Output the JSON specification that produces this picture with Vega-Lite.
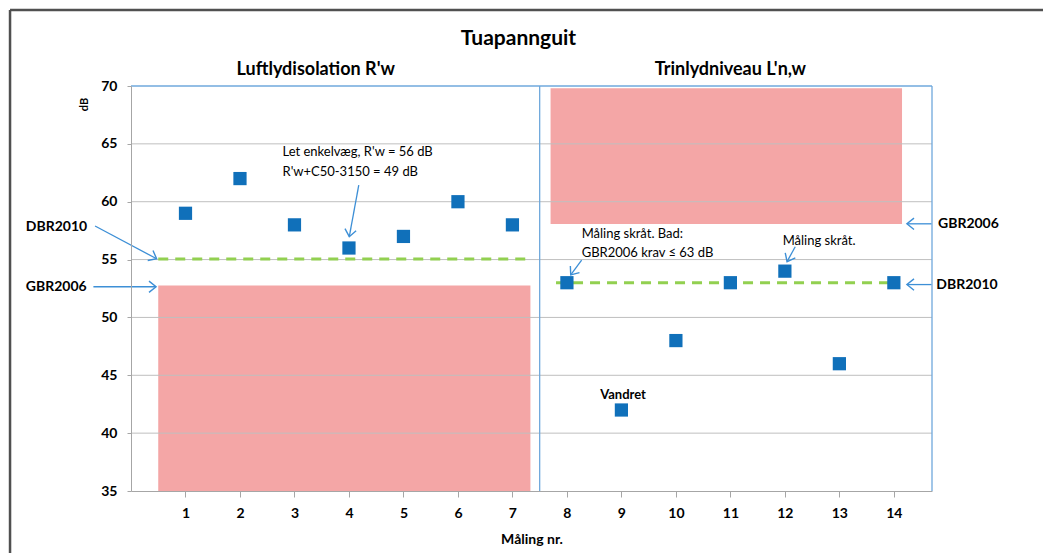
{
  "$schema": "https://vega.github.io/schema/vega-lite/v6.json",
  "width": 801,
  "height": 405,
  "autosize": {"type": "none"},
  "padding": {"left": 131, "top": 86, "right": 111, "bottom": 62},
  "background": "white",
  "config": {"view": {"stroke": null}, "font": "Lato"},
  "datasets": {
    "pts": [
      {"n": 1, "db": 59}, {"n": 2, "db": 62}, {"n": 3, "db": 58}, {"n": 4, "db": 56},
      {"n": 5, "db": 57}, {"n": 6, "db": 60}, {"n": 7, "db": 58}, {"n": 8, "db": 53},
      {"n": 9, "db": 42}, {"n": 10, "db": 48}, {"n": 11, "db": 53}, {"n": 12, "db": 54},
      {"n": 13, "db": 46}, {"n": 14, "db": 53}
    ],
    "zones": [
      {"x": 0.5, "x2": 7.33, "y": 35, "y2": 52.75},
      {"x": 7.7, "x2": 14.15, "y": 58.07, "y2": 69.8}
    ],
    "grid": [{"v": 40}, {"v": 45}, {"v": 50}, {"v": 55}, {"v": 60}, {"v": 65}],
    "krav": [
      {"x": 0.5, "x2": 7.33, "y": 55.05},
      {"x": 7.8, "x2": 14.1, "y": 53}
    ],
    "border": [
      {"x": 0, "x2": 14.7, "y": 70, "y2": 70},
      {"x": 14.7, "x2": 14.7, "y": 35, "y2": 70},
      {"x": 7.5, "x2": 7.5, "y": 35, "y2": 70}
    ],
    "frame": [
      {"x": -2.22, "x2": -2.22, "y": 29.5, "y2": 76.57},
      {"x": -2.22, "x2": 16.8, "y": 76.57, "y2": 76.57}
    ],
    "arrows": [
      {"x": 4.18, "y": 61.44, "x2": 4.006, "y2": 56.98, "angle": 100.3},
      {"x": -0.66, "y": 57.9, "x2": 0.47, "y2": 55.07, "angle": 27.9},
      {"x": -0.69, "y": 52.65, "x2": 0.46, "y2": 52.65, "angle": 0},
      {"x": 14.69, "y": 58.09, "x2": 14.24, "y2": 58.09, "angle": 180},
      {"x": 14.69, "y": 52.84, "x2": 14.24, "y2": 52.84, "angle": 180},
      {"x": 8.27, "y": 54.96, "x2": 8.07, "y2": 53.67, "angle": 126.3},
      {"x": 12.19, "y": 56.11, "x2": 12.04, "y2": 54.82, "angle": 117.2}
    ],
    "notesBold": [
      {"x": -1.93, "y": 57.85, "t": "DBR2010"},
      {"x": -1.93, "y": 52.65, "t": "GBR2006"},
      {"x": 14.81, "y": 58.09, "t": "GBR2006"},
      {"x": 14.78, "y": 52.84, "t": "DBR2010"}
    ],
    "notes": [
      {"x": 2.78, "y": 64.32, "t": "Let enkelvæg, R'w =  56 dB"},
      {"x": 2.78, "y": 62.6, "t": "R'w+C50-3150 = 49 dB"},
      {"x": 8.27, "y": 57.21, "t": "Måling skråt. Bad:"},
      {"x": 8.27, "y": 55.6, "t": "GBR2006 krav ≤ 63 dB"},
      {"x": 11.96, "y": 56.63, "t": "Måling skråt."}
    ],
    "vandret": [{"x": 9.03, "y": 43.3, "t": "Vandret"}],
    "panels": [
      {"x": 3.39, "y": 71.38, "t": "Luftlydisolation R'w"},
      {"x": 11.0, "y": 71.38, "t": "Trinlydniveau L'n,w"}
    ],
    "main": [{"x": 7.11, "y": 74.1, "t": "Tuapannguit"}]
  },
  "layer": [
    {
      "data": {"name": "zones"},
      "mark": {"type": "rect", "color": "#F4A6A6"},
      "encoding": {
        "x": {"field": "x", "type": "quantitative", "title": "Måling nr.", "scale": {"domain": [0, 14.7], "nice": false, "zero": false}},
        "x2": {"field": "x2"},
        "y": {"field": "y", "type": "quantitative", "title": "dB", "scale": {"domain": [35, 70], "nice": false, "zero": false}},
        "y2": {"field": "y2"}
      }
    },
    {
      "data": {"name": "grid"},
      "mark": {"type": "rule", "color": "#BFBFBF", "strokeWidth": 1},
      "encoding": {
        "y": {"field": "v", "type": "quantitative", "title": "dB", "scale": {"domain": [35, 70], "nice": false, "zero": false}}
      }
    },
    {
      "data": {"name": "border"},
      "mark": {"type": "rule", "color": "#6FA8DC", "strokeWidth": 1.3},
      "encoding": {
        "x": {"field": "x", "type": "quantitative", "title": "Måling nr.", "scale": {"domain": [0, 14.7], "nice": false, "zero": false}},
        "x2": {"field": "x2"},
        "y": {"field": "y", "type": "quantitative", "title": "dB", "scale": {"domain": [35, 70], "nice": false, "zero": false}},
        "y2": {"field": "y2"}
      }
    },
    {
      "data": {"name": "frame"},
      "mark": {"type": "rule", "color": "#505050", "strokeWidth": 2.5},
      "encoding": {
        "x": {"field": "x", "type": "quantitative", "title": "Måling nr.", "scale": {"domain": [0, 14.7], "nice": false, "zero": false}},
        "x2": {"field": "x2"},
        "y": {"field": "y", "type": "quantitative", "title": "dB", "scale": {"domain": [35, 70], "nice": false, "zero": false}},
        "y2": {"field": "y2"}
      }
    },
    {
      "data": {"name": "krav"},
      "mark": {"type": "rule", "color": "#92D050", "strokeWidth": 3, "strokeDash": [10, 7]},
      "encoding": {
        "x": {"field": "x", "type": "quantitative", "title": "Måling nr.", "scale": {"domain": [0, 14.7], "nice": false, "zero": false}},
        "x2": {"field": "x2"},
        "y": {"field": "y", "type": "quantitative", "title": "dB", "scale": {"domain": [35, 70], "nice": false, "zero": false}}
      }
    },
    {
      "data": {"name": "pts"},
      "mark": {"type": "point", "shape": "square", "filled": true, "size": 175, "color": "#1070BA", "opacity": 1},
      "encoding": {
        "x": {
          "field": "n", "type": "quantitative", "title": "Måling nr.",
          "scale": {"domain": [0, 14.7], "nice": false, "zero": false},
          "axis": {
            "values": [1, 2, 3, 4, 5, 6, 7, 8, 9, 10, 11, 12, 13, 14],
            "format": "d",
            "grid": false, "tickSize": 6,
            "tickColor": "#A6A6A6", "domainColor": "#A6A6A6",
            "labelFont": "Lato", "labelFontSize": 14, "labelFontWeight": "bold", "labelColor": "#000000",
            "labelPadding": 9, "labelFlush": false,
            "titleFont": "Lato", "titleFontSize": 14, "titleFontWeight": "bold", "titleColor": "#000000",
            "titlePadding": 12, "zindex": 1
          }
        },
        "y": {
          "field": "db", "type": "quantitative", "title": "dB",
          "scale": {"domain": [35, 70], "nice": false, "zero": false},
          "axis": {
            "values": [35, 40, 45, 50, 55, 60, 65, 70],
            "format": "d",
            "grid": false, "tickSize": 4,
            "tickColor": "#A6A6A6", "domainColor": "#A6A6A6",
            "labelFont": "Lato", "labelFontSize": 14, "labelFontWeight": "bold", "labelColor": "#000000",
            "labelPadding": 10, "labelFlush": false,
            "titleFont": "Lato", "titleFontSize": 11, "titleFontWeight": "bold", "titleColor": "#000000",
            "titleAngle": 270, "titleAlign": "center", "titleBaseline": "middle",
            "titleX": -47, "titleY": 18, "zindex": 1
          }
        }
      }
    },
    {
      "data": {"name": "arrows"},
      "mark": {"type": "rule", "color": "#3D8FD6", "strokeWidth": 1.3},
      "encoding": {
        "x": {"field": "x", "type": "quantitative", "title": "Måling nr.", "scale": {"domain": [0, 14.7], "nice": false, "zero": false}},
        "x2": {"field": "x2"},
        "y": {"field": "y", "type": "quantitative", "title": "dB", "scale": {"domain": [35, 70], "nice": false, "zero": false}},
        "y2": {"field": "y2"}
      }
    },
    {
      "data": {"name": "arrows"},
      "mark": {"type": "point", "shape": "M-1,-0.8L0,0L-1,0.8", "filled": false, "size": 200, "color": "#3D8FD6", "strokeWidth": 1.4, "opacity": 1},
      "encoding": {
        "x": {"field": "x2", "type": "quantitative", "title": "Måling nr.", "scale": {"domain": [0, 14.7], "nice": false, "zero": false}},
        "y": {"field": "y2", "type": "quantitative", "title": "dB", "scale": {"domain": [35, 70], "nice": false, "zero": false}},
        "angle": {"field": "angle", "type": "quantitative", "scale": null}
      }
    },
    {
      "data": {"name": "notesBold"},
      "mark": {"type": "text", "align": "left", "baseline": "middle", "font": "Lato", "fontSize": 14, "fontWeight": "bold", "color": "#000000"},
      "encoding": {
        "x": {"field": "x", "type": "quantitative", "title": "Måling nr.", "scale": {"domain": [0, 14.7], "nice": false, "zero": false}},
        "y": {"field": "y", "type": "quantitative", "title": "dB", "scale": {"domain": [35, 70], "nice": false, "zero": false}},
        "text": {"field": "t"}
      }
    },
    {
      "data": {"name": "notes"},
      "mark": {"type": "text", "align": "left", "baseline": "middle", "font": "Lato", "fontSize": 13, "fontWeight": "normal", "color": "#000000"},
      "encoding": {
        "x": {"field": "x", "type": "quantitative", "title": "Måling nr.", "scale": {"domain": [0, 14.7], "nice": false, "zero": false}},
        "y": {"field": "y", "type": "quantitative", "title": "dB", "scale": {"domain": [35, 70], "nice": false, "zero": false}},
        "text": {"field": "t"}
      }
    },
    {
      "data": {"name": "vandret"},
      "mark": {"type": "text", "align": "center", "baseline": "middle", "font": "Lato", "fontSize": 13, "fontWeight": "bold", "color": "#000000"},
      "encoding": {
        "x": {"field": "x", "type": "quantitative", "title": "Måling nr.", "scale": {"domain": [0, 14.7], "nice": false, "zero": false}},
        "y": {"field": "y", "type": "quantitative", "title": "dB", "scale": {"domain": [35, 70], "nice": false, "zero": false}},
        "text": {"field": "t"}
      }
    },
    {
      "data": {"name": "panels"},
      "mark": {"type": "text", "align": "center", "baseline": "middle", "font": "Lato", "fontSize": 18, "fontWeight": "bold", "color": "#000000"},
      "encoding": {
        "x": {"field": "x", "type": "quantitative", "title": "Måling nr.", "scale": {"domain": [0, 14.7], "nice": false, "zero": false}},
        "y": {"field": "y", "type": "quantitative", "title": "dB", "scale": {"domain": [35, 70], "nice": false, "zero": false}},
        "text": {"field": "t"}
      }
    },
    {
      "data": {"name": "main"},
      "mark": {"type": "text", "align": "center", "baseline": "middle", "font": "Lato", "fontSize": 21, "fontWeight": "bold", "color": "#000000"},
      "encoding": {
        "x": {"field": "x", "type": "quantitative", "title": "Måling nr.", "scale": {"domain": [0, 14.7], "nice": false, "zero": false}},
        "y": {"field": "y", "type": "quantitative", "title": "dB", "scale": {"domain": [35, 70], "nice": false, "zero": false}},
        "text": {"field": "t"}
      }
    }
  ]
}
